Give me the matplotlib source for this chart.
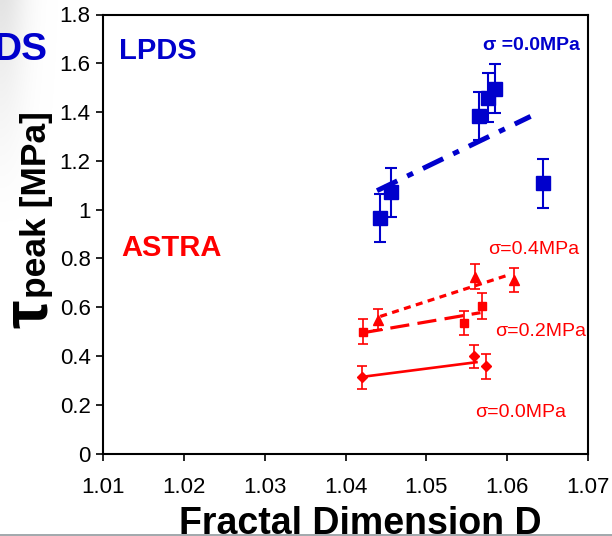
import numpy as np
import matplotlib
matplotlib.use("Agg")
import matplotlib.pyplot as plt
from matplotlib.patches import Rectangle

plt.rcParams['font.family'] = ['Liberation Sans', 'DejaVu Sans']

BLUE = '#0000cc'
RED = '#ff0000'

# LPDS, sigma = 0.0 MPa
lpds_d = [1.0443, 1.0456, 1.0565, 1.0576, 1.0585, 1.0644]
lpds_tau = [0.966, 1.071, 1.384, 1.459, 1.496, 1.108]
lpds_err = [0.10, 0.10, 0.10, 0.10, 0.10, 0.10]

# ASTRA, three normal stresses
astra_04_d = [1.0440, 1.0560, 1.0608]
astra_04_tau = [0.548, 0.725, 0.712]
astra_04_err = [0.043, 0.052, 0.048]

astra_02_d = [1.0422, 1.0547, 1.0569]
astra_02_tau = [0.500, 0.535, 0.605]
astra_02_err = [0.050, 0.051, 0.052]

astra_00_d = [1.0421, 1.0559, 1.0574]
astra_00_tau = [0.312, 0.398, 0.357]
astra_00_err = [0.048, 0.048, 0.050]

x_ticks = [1.01, 1.02, 1.03, 1.04, 1.05, 1.06, 1.07]
y_ticks = [0, 0.2, 0.4, 0.6, 0.8, 1.0, 1.2, 1.4, 1.6, 1.8]

W, H = 612, 536
fig = plt.figure(figsize=(W / 100, H / 100), dpi=100)


def px(x, y):
    return x / W, 1 - y / H


# faint grey shadow in the top-left corner
shade = fig.add_axes([0, 0, 1, 1], zorder=-5)
gx = np.arange(W)
gy = np.arange(H)
GX, GY = np.meshgrid(gx, gy)
fade_y = np.clip(1 - GY / 230.0, 0, 1) ** 1.5
alpha = np.exp(-(GX / 26.0) ** 2) * fade_y
rgba = np.zeros((H, W, 4))
rgba[..., :3] = 0.80
rgba[..., 3] = alpha * 0.55
shade.imshow(rgba, aspect='auto', origin='upper', extent=(0, 1, 0, 1))
shade.axis('off')

ax = fig.add_axes([103 / W, 1 - 453.5 / H, 485 / W, 439 / H])
ax.patch.set_alpha(0)


def fit_line(d, tau, x0, x1, **kw):
    k, b = np.polyfit(d, tau, 1)
    xs = np.array([x0, x1])
    ax.plot(xs, k * xs + b, **kw)


def series(d, tau, err, color, marker, ms, cap, elw):
    ax.errorbar(d, tau, yerr=err, fmt=marker, color=color, ms=ms,
                mec=color, mfc=color, capsize=cap, elinewidth=elw,
                capthick=elw, zorder=3)


fit_line(lpds_d, lpds_tau, min(lpds_d) - 0.0004, 1.0629, color=BLUE, lw=3.6,
         linestyle=(0, (4.5, 2.2, 1.3, 2.2)), solid_capstyle='butt')
series(lpds_d, lpds_tau, lpds_err, BLUE, 's', 10.5, 4.5, 1.5)

fit_line(astra_04_d, astra_04_tau, 1.0443, 1.0600, color=RED, lw=2.3,
         linestyle=(0, (2.2, 1.7)))
series(astra_04_d, astra_04_tau, astra_04_err, RED, '^', 6.5, 3.5, 1.2)

fit_line(astra_02_d, astra_02_tau, min(astra_02_d), 1.0567, color=RED, lw=2.3,
         linestyle=(0, (6.0, 2.6)))
series(astra_02_d, astra_02_tau, astra_02_err, RED, 's', 6, 3.5, 1.2)

fit_line(astra_00_d, astra_00_tau, min(astra_00_d), 1.0562, color=RED, lw=1.9)
series(astra_00_d, astra_00_tau, astra_00_err, RED, 'D', 5.5, 3.5, 1.2)

ax.set_xlim(1.01, 1.07)
ax.set_ylim(0, 1.8)
ax.set_xticks(x_ticks)
ax.set_xticklabels([f"{t:.2f}" for t in x_ticks])
ax.set_yticks(y_ticks)
ax.set_yticklabels([f"{t:g}" for t in y_ticks])
ax.tick_params(direction='out', length=5, width=1.2, labelsize=16, color='black')
ax.tick_params(axis='x', pad=12)
ax.tick_params(axis='y', pad=4)
for s in ax.spines.values():
    s.set_linewidth(1.5)

# axis titles
fig.text(*px(360, 533.5), "Fractal Dimension D", fontsize=27, fontweight='bold',
         ha='center', va='baseline')
fig.text(*px(46, 298), "peak [MPa]", fontsize=25.5, fontweight='bold',
         rotation=90, rotation_mode='anchor', ha='left', va='baseline')
fig.text(*px(47, 300), "\u03c4", fontsize=46, fontweight='bold',
         rotation=90, rotation_mode='anchor', ha='right', va='baseline')

# group and stress labels
fig.text(*px(47, 60), "DS", fontsize=28, fontweight='bold', color=BLUE,
         ha='right', va='baseline')
fig.text(*px(119, 59), "LPDS", fontsize=21, fontweight='bold', color=BLUE,
         va='baseline')
fig.text(*px(121, 256), "ASTRA", fontsize=21, fontweight='bold', color=RED,
         va='baseline')
fig.text(*px(483, 50), "\u03c3 =0.0MPa", fontsize=14, fontweight='bold',
         color=BLUE, va='baseline')
fig.text(*px(488, 254), "\u03c3=0.4MPa", fontsize=14, color=RED, va='baseline')
fig.text(*px(495, 336), "\u03c3=0.2MPa", fontsize=14, color=RED, va='baseline')
fig.text(*px(475, 417), "\u03c3=0.0MPa", fontsize=14, color=RED, va='baseline')

# thin grey rule along the bottom edge
fig.add_artist(Rectangle((0, 0), 1, 2.2 / H, transform=fig.transFigure,
                         facecolor='#a3aaae', edgecolor='none', zorder=10))

fig.savefig('out.png', dpi=100)
